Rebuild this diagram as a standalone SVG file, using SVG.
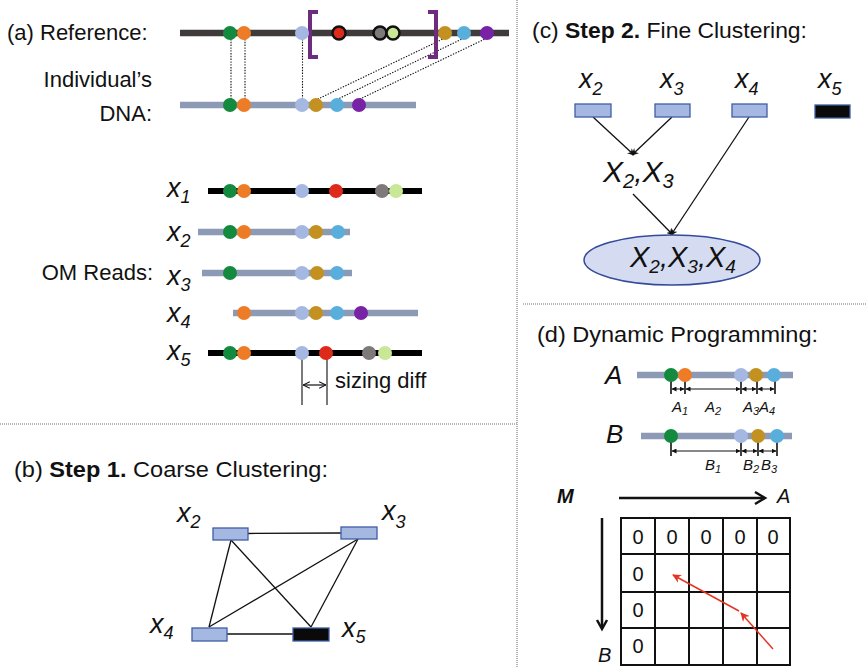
<svg xmlns="http://www.w3.org/2000/svg" width="867" height="667" viewBox="0 0 867 667">
<style>
text{font-family:"Liberation Sans",Arial,sans-serif;fill:#111}
.t{font-size:22px}
.it{font-style:italic}
.xl{font-size:27px;font-style:italic}
.sub{font-size:18px}
.g{fill:#138A3D}.o{fill:#EE7C27}.lb{fill:#A4B8E2}.r{fill:#DD2A1B}.gr{fill:#7E7A79}.lg{fill:#C8E897}.au{fill:#C39120}.bl{fill:#5AAEDC}.pu{fill:#7822A6}
.ring{stroke:#111;stroke-width:2.5}
.blk{stroke:#000;stroke-width:6}
.gb{stroke:#8C9AB5;stroke-width:6.5}
.dot{stroke:#111;stroke-width:1.1;stroke-dasharray:1.4 1.4;fill:none}
.div{stroke:#A0A0A0;stroke-width:1.6;stroke-dasharray:1 1;fill:none}
.br{stroke:#6E2C7E;stroke-width:4;fill:none}
.node{fill:#A4B8E2;stroke:#3F5EA5;stroke-width:1.3}
.nodek{fill:#0A0A0A;stroke:#3F5EA5;stroke-width:1.3}
.edge{stroke:#111;stroke-width:1.3;fill:none}
.tick{stroke:#111;stroke-width:1.6}
.grid{stroke:#111;stroke-width:2;fill:none}
.red{stroke:#E53423;stroke-width:1.5;fill:none}
</style>
<defs>
<marker id="ah" viewBox="0 0 10 10" refX="9" refY="5" markerWidth="7" markerHeight="7" orient="auto-start-reverse" markerUnits="userSpaceOnUse"><path d="M0,0 L10,5 L0,10 L3,5 z" fill="#111"/></marker>
<marker id="ahs" viewBox="0 0 10 10" refX="9" refY="5" markerWidth="5" markerHeight="5" orient="auto-start-reverse" markerUnits="userSpaceOnUse"><path d="M0,0 L10,5 L0,10 z" fill="#111"/></marker>
<marker id="ahr" viewBox="0 0 10 10" refX="9" refY="5" markerWidth="9" markerHeight="9" orient="auto" markerUnits="userSpaceOnUse"><path d="M0,0 L10,5 L0,10 L3,5 z" fill="#E53423"/></marker>
<marker id="ao" viewBox="0 0 10 10" refX="9.5" refY="5" markerWidth="8" markerHeight="8" orient="auto-start-reverse" markerUnits="userSpaceOnUse"><path d="M1,1 L9.5,5 L1,9" fill="none" stroke="#111" stroke-width="1.3"/></marker>
</defs>

<!-- dividers -->
<g id="dividers">
<line class="div" x1="517" y1="0" x2="517" y2="667"/>
<line class="div" x1="0" y1="424" x2="517" y2="424"/>
<line class="div" x1="523" y1="304" x2="867" y2="304"/>
</g>

<!-- Panel (a) -->
<g id="panel-a">
<text class="t" x="7" y="40">(a) Reference:</text>
<text class="t" x="152" y="87" text-anchor="end">Individual’s</text>
<text class="t" x="152" y="121" text-anchor="end">DNA:</text>
<text class="t" x="153" y="280" text-anchor="end">OM Reads:</text>

<g id="dotted-links">
<line class="dot" x1="231" y1="39" x2="231" y2="99"/>
<line class="dot" x1="245" y1="39" x2="245" y2="99"/>
<line class="dot" x1="302.5" y1="39" x2="302.5" y2="99"/>
<line class="dot" x1="445" y1="38" x2="318" y2="99"/>
<line class="dot" x1="464" y1="38" x2="338" y2="99"/>
<line class="dot" x1="487" y1="38" x2="360" y2="99"/>
</g>

<g id="reference">
<line x1="180" y1="33" x2="509" y2="33" stroke="#3F3B3B" stroke-width="6.5"/>
<path class="br" d="M318,12 H310 V57 H318"/>
<path class="br" d="M428,12 H436 V57 H428"/>
<circle class="g" cx="230" cy="33" r="7"/>
<circle class="o" cx="244" cy="33" r="7"/>
<circle class="lb" cx="302" cy="33" r="7"/>
<circle class="r ring" cx="339" cy="33" r="6.5"/>
<circle class="gr ring" cx="380" cy="33" r="6.5"/>
<circle class="lg ring" cx="393" cy="33" r="6.5"/>
<circle class="au" cx="445" cy="33" r="7"/>
<circle class="bl" cx="464" cy="33" r="7"/>
<circle class="pu" cx="487" cy="33" r="7"/>
</g>

<g id="individual">
<line class="gb" x1="180" y1="105" x2="416" y2="105"/>
<circle class="g" cx="230" cy="105" r="7"/>
<circle class="o" cx="244" cy="105" r="7"/>
<circle class="lb" cx="302" cy="105" r="7"/>
<circle class="au" cx="316" cy="105" r="7"/>
<circle class="bl" cx="337" cy="105" r="7"/>
<circle class="pu" cx="359" cy="105" r="7"/>
</g>

<g id="read-x1">
<text class="xl" x="167" y="197">x<tspan class="sub" dy="6">1</tspan></text>
<line class="blk" x1="208" y1="191" x2="422" y2="191"/>
<circle class="g" cx="230" cy="191" r="7"/>
<circle class="o" cx="244" cy="191" r="7"/>
<circle class="lb" cx="302" cy="191" r="7"/>
<circle class="r" cx="336" cy="191" r="7"/>
<circle class="gr" cx="382" cy="191" r="7"/>
<circle class="lg" cx="396" cy="191" r="7"/>
</g>
<g id="read-x2">
<text class="xl" x="167" y="241">x<tspan class="sub" dy="6">2</tspan></text>
<line class="gb" x1="198" y1="232" x2="350" y2="232"/>
<circle class="g" cx="230" cy="232" r="7"/>
<circle class="o" cx="244" cy="232" r="7"/>
<circle class="lb" cx="302" cy="232" r="7"/>
<circle class="au" cx="316" cy="232" r="7"/>
<circle class="bl" cx="338" cy="232" r="7"/>
</g>
<g id="read-x3">
<text class="xl" x="167" y="285">x<tspan class="sub" dy="6">3</tspan></text>
<line class="gb" x1="202" y1="273" x2="352" y2="273"/>
<circle class="g" cx="230" cy="273" r="7"/>
<circle class="lb" cx="302" cy="273" r="7"/>
<circle class="au" cx="317" cy="273" r="7"/>
<circle class="bl" cx="337" cy="273" r="7"/>
</g>
<g id="read-x4">
<text class="xl" x="167" y="322">x<tspan class="sub" dy="6">4</tspan></text>
<line class="gb" x1="233" y1="313" x2="418" y2="313"/>
<circle class="o" cx="244" cy="313" r="7"/>
<circle class="lb" cx="302" cy="313" r="7"/>
<circle class="au" cx="316" cy="313" r="7"/>
<circle class="bl" cx="337" cy="313" r="7"/>
<circle class="pu" cx="361" cy="313" r="7"/>
</g>
<g id="read-x5">
<text class="xl" x="167" y="360">x<tspan class="sub" dy="6">5</tspan></text>
<line class="blk" x1="208" y1="353" x2="422" y2="353"/>
<line stroke="#333" stroke-width="1.3" x1="302" y1="353" x2="302" y2="405"/>
<line stroke="#333" stroke-width="1.3" x1="327" y1="353" x2="327" y2="405"/>
<circle class="g" cx="230" cy="353" r="7"/>
<circle class="o" cx="244" cy="353" r="7"/>
<circle class="lb" cx="302" cy="353" r="7"/>
<circle class="r" cx="326" cy="353" r="7"/>
<circle class="gr" cx="369" cy="353" r="7"/>
<circle class="lg" cx="385" cy="353" r="7"/>
<line stroke="#111" stroke-width="1.2" x1="303" y1="385" x2="326" y2="385" marker-start="url(#ao)" marker-end="url(#ao)"/>
<text class="t" x="335" y="388">sizing diff</text>
</g>
</g>

<!-- Panel (b) -->
<g id="panel-b">
<text class="t" x="14" y="477" textLength="314" lengthAdjust="spacingAndGlyphs">(b)  <tspan font-weight="bold">Step 1.</tspan> Coarse Clustering:</text>
<g id="b-edges">
<line class="edge" x1="248" y1="533.5" x2="341" y2="533"/>
<line class="edge" x1="231" y1="540" x2="209" y2="627"/>
<line class="edge" x1="231" y1="540" x2="311" y2="627"/>
<line class="edge" x1="358" y1="539" x2="209" y2="627"/>
<line class="edge" x1="358" y1="539" x2="311" y2="627"/>
<line class="edge" x1="227" y1="634" x2="293" y2="634"/>
</g>
<g id="b-x2"><rect class="node" x="213" y="528" width="35" height="12"/><text class="xl" x="177" y="522">x<tspan class="sub" dy="6">2</tspan></text></g>
<g id="b-x3"><rect class="node" x="341" y="527" width="36" height="12"/><text class="xl" x="382" y="520">x<tspan class="sub" dy="8">3</tspan></text></g>
<g id="b-x4"><rect class="node" x="192" y="628" width="35" height="13"/><text class="xl" x="150" y="633">x<tspan class="sub" dy="6">4</tspan></text></g>
<g id="b-x5"><rect class="nodek" x="293" y="628" width="36" height="13"/><text class="xl" x="342" y="637">x<tspan class="sub" dy="6">5</tspan></text></g>
</g>

<!-- Panel (c) -->
<g id="panel-c">
<text class="t" x="532" y="38" textLength="275" lengthAdjust="spacingAndGlyphs">(c) <tspan font-weight="bold">Step 2.</tspan> Fine Clustering:</text>
<g id="c-edges">
<line class="edge" x1="593" y1="117" x2="634" y2="155" marker-end="url(#ah)"/>
<line class="edge" x1="672" y1="117" x2="632" y2="155" marker-end="url(#ah)"/>
<line class="edge" x1="633" y1="194" x2="673" y2="235" marker-end="url(#ah)"/>
<line class="edge" x1="749" y1="117" x2="671" y2="235" marker-end="url(#ah)"/>
</g>
<g id="c-x2"><rect class="node" x="575" y="104" width="36" height="13"/><text class="xl" x="579" y="88" font-size="26">x<tspan class="sub" dy="7">2</tspan></text></g>
<g id="c-x3"><rect class="node" x="655" y="104" width="35" height="13"/><text class="xl" x="660" y="88" font-size="26">x<tspan class="sub" dy="7">3</tspan></text></g>
<g id="c-x4"><rect class="node" x="732" y="104" width="35" height="13"/><text class="xl" x="735" y="88" font-size="26">x<tspan class="sub" dy="7">4</tspan></text></g>
<g id="c-x5"><rect class="nodek" x="815" y="105" width="35" height="13"/><text class="xl" x="818" y="88" font-size="26">x<tspan class="sub" dy="7">5</tspan></text></g>
<g id="c-x23"><text class="it" x="603" y="182" font-size="30">X<tspan font-size="20" dy="6">2</tspan><tspan dy="-6">,X</tspan><tspan font-size="20" dy="6">3</tspan></text></g>
<g id="c-x234">
<ellipse cx="672" cy="260" rx="88" ry="25" fill="#D5DCF2" stroke="#344B9A" stroke-width="1.5"/>
<text class="it" x="630" y="267" font-size="29">X<tspan font-size="19" dy="6">2</tspan><tspan dy="-6">,X</tspan><tspan font-size="19" dy="6">3</tspan><tspan dy="-6">,X</tspan><tspan font-size="19" dy="6">4</tspan></text>
</g>
</g>

<!-- Panel (d) -->
<g id="panel-d">
<text class="t" x="537" y="342" textLength="281" lengthAdjust="spacingAndGlyphs">(d)  Dynamic Programming:</text>
<g id="seq-A">
<text class="it" x="605" y="384" font-size="26">A</text>
<line class="tick" x1="671" y1="375" x2="671" y2="394"/>
<line class="tick" x1="685" y1="375" x2="685" y2="394" stroke-width="2.2"/>
<line class="tick" x1="741" y1="375" x2="741" y2="394"/>
<line class="tick" x1="757" y1="375" x2="757" y2="394"/>
<line class="tick" x1="775" y1="375" x2="775" y2="394"/>
<line class="gb" x1="637" y1="375" x2="793" y2="375"/>
<circle class="g" cx="671" cy="375" r="7"/>
<circle class="o" cx="685" cy="375" r="7"/>
<circle class="lb" cx="741" cy="375" r="7"/>
<circle class="au" cx="756" cy="375" r="7"/>
<circle class="bl" cx="774" cy="375" r="7"/>
<g stroke="#111" stroke-width="1">
<line x1="672" y1="389" x2="684" y2="389" marker-start="url(#ahs)" marker-end="url(#ahs)"/>
<line x1="686" y1="389" x2="740" y2="389" marker-start="url(#ahs)" marker-end="url(#ahs)"/>
<line x1="742" y1="389" x2="756" y2="389" marker-start="url(#ahs)" marker-end="url(#ahs)"/>
<line x1="758" y1="389" x2="774" y2="389" marker-start="url(#ahs)" marker-end="url(#ahs)"/>
</g>
<g class="it" font-size="15">
<text x="672" y="412">A<tspan font-size="11" dy="3">1</tspan></text>
<text x="705" y="412">A<tspan font-size="11" dy="3">2</tspan></text>
<text x="743" y="412">A<tspan font-size="11" dy="3">3</tspan></text>
<text x="759" y="412">A<tspan font-size="11" dy="3">4</tspan></text>
</g>
</g>
<g id="seq-B">
<text class="it" x="606" y="443" font-size="26">B</text>
<line class="tick" x1="671" y1="436" x2="671" y2="456"/>
<line class="tick" x1="741" y1="436" x2="741" y2="456"/>
<line class="tick" x1="758" y1="436" x2="758" y2="456"/>
<line class="tick" x1="777" y1="436" x2="777" y2="456"/>
<line class="gb" x1="641" y1="436" x2="792" y2="436"/>
<circle class="g" cx="671" cy="436" r="7"/>
<circle class="lb" cx="741" cy="436" r="7"/>
<circle class="au" cx="758" cy="436" r="7"/>
<circle class="bl" cx="777" cy="436" r="7"/>
<g stroke="#111" stroke-width="1">
<line x1="672" y1="451" x2="740" y2="451" marker-start="url(#ahs)" marker-end="url(#ahs)"/>
<line x1="742" y1="451" x2="757" y2="451" marker-start="url(#ahs)" marker-end="url(#ahs)"/>
<line x1="759" y1="451" x2="776" y2="451" marker-start="url(#ahs)" marker-end="url(#ahs)"/>
</g>
<g class="it" font-size="15">
<text x="705" y="470">B<tspan font-size="11" dy="3">1</tspan></text>
<text x="743" y="470">B<tspan font-size="11" dy="3">2</tspan></text>
<text x="761" y="470">B<tspan font-size="11" dy="3">3</tspan></text>
</g>
</g>
<g id="matrix">
<text x="557" y="503" font-size="20" font-weight="bold" font-style="italic">M</text>
<line x1="619" y1="498" x2="764" y2="498" stroke="#111" stroke-width="2.5"/>
<path d="M755,492 L765,498 L755,504" fill="none" stroke="#111" stroke-width="2.5"/>
<text class="it" x="777" y="503" font-size="20">A</text>
<line x1="602" y1="518" x2="602" y2="628" stroke="#111" stroke-width="2.5"/>
<path d="M597,620 L602,629 L607,620" fill="none" stroke="#111" stroke-width="2.5"/>
<text class="it" x="598" y="662" font-size="20">B</text>
<rect class="grid" x="621" y="518" width="169" height="147"/>
<path class="grid" d="M655,518V665M689,518V665M723,518V665M757,518V665M621,554H790M621,592H790M621,628H790"/>
<g font-size="20" text-anchor="middle">
<text x="638" y="544">0</text>
<text x="672" y="544">0</text>
<text x="706" y="544">0</text>
<text x="740" y="544">0</text>
<text x="773" y="544">0</text>
<text x="638" y="581">0</text>
<text x="638" y="617">0</text>
<text x="638" y="653">0</text>
</g>
<line class="red" x1="773" y1="649" x2="741" y2="613" marker-end="url(#ahr)"/>
<line class="red" x1="739" y1="611" x2="673" y2="575" marker-end="url(#ahr)"/>
</g>
</g>
</svg>
